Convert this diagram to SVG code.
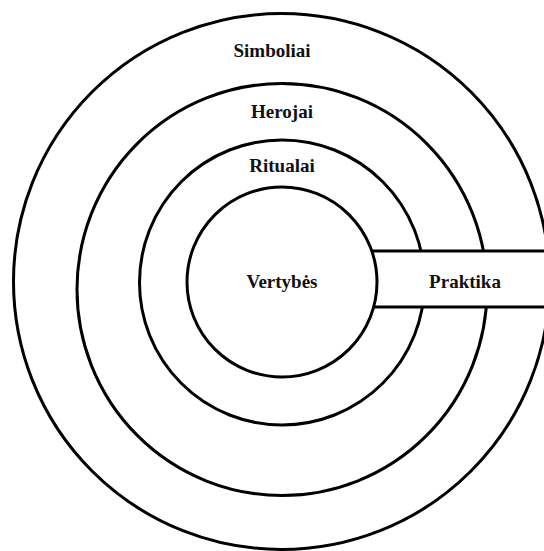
<svg xmlns="http://www.w3.org/2000/svg" width="544" height="551" viewBox="0 0 544 551">
<style>
.ring{fill:none;stroke:#000;stroke-width:3}
.core{fill:#fff;stroke:#000;stroke-width:3}
.box{fill:#fff;stroke:#000;stroke-width:3}
.lbl{font-family:"Liberation Serif","Times New Roman",serif;font-weight:bold;font-size:19px;fill:#111;text-anchor:middle}
</style>
<rect width="544" height="551" fill="#fff"/>
<g id="simboliai">
<circle class="ring" cx="281.5" cy="281.5" r="268"/>
<text class="lbl" x="272" y="57">Simboliai</text>
</g>
<g id="herojai">
<ellipse class="ring" cx="282" cy="289.5" rx="205" ry="206"/>
<text class="lbl" x="282" y="118">Herojai</text>
</g>
<g id="ritualai">
<circle class="ring" cx="282" cy="282.5" r="142.5"/>
<text class="lbl" x="282" y="172">Ritualai</text>
</g>
<g id="praktika">
<rect class="box" x="330" y="251" width="225" height="56"/>
<text class="lbl" x="465" y="288">Praktika</text>
</g>
<g id="vertybes">
<circle class="core" cx="282" cy="282" r="95"/>
<text class="lbl" x="282" y="288">Vertybės</text>
</g>
<g id="connectors"></g>
</svg>
